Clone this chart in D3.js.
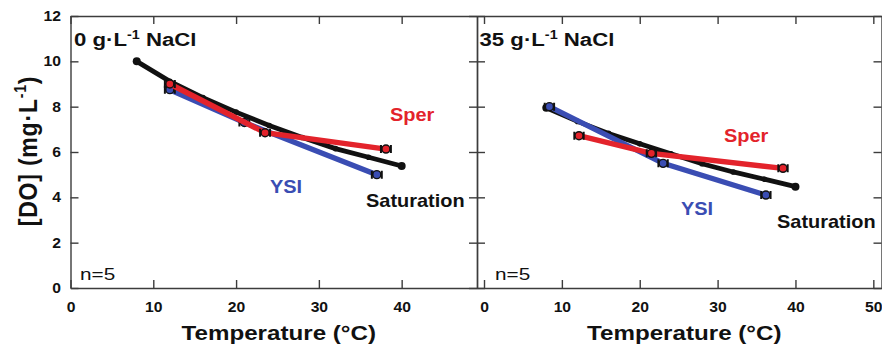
<!DOCTYPE html>
<html>
<head>
<meta charset="utf-8">
<script src="https://cdn.jsdelivr.net/npm/d3@7"></script>
<style>
body { margin: 0; background: #fff; }
svg { display: block; font-family: "Liberation Sans", Arial, Helvetica, sans-serif; }
</style>
</head>
<body>
<svg id="svg" width="882" height="350"></svg>
<script>
// saturation curve (same temps in both panels)
var satTemp = [8, 12, 16, 20, 24, 28, 32, 36, 40];
var satFresh = [10.0, 9.12, 8.4, 7.76, 7.17, 6.64, 6.15, 5.77, 5.38];
var satSalt = [7.95, 7.35, 6.82, 6.36, 5.92, 5.48, 5.12, 4.8, 4.47];

// sensors, 0 g/L NaCl
var sperFreshTemp = [12, 23.5, 38.1];
var sperFresh = [9.0, 6.85, 6.13];
var ysiFreshTemp = [12, 21, 37];
var ysiFresh = [8.75, 7.3, 5.0];

// sensors, 35 g/L NaCl
var sperSaltTemp = [12.2, 21.5, 38.4];
var sperSalt = [6.72, 5.94, 5.28];
var ysiSaltTemp = [8.4, 23, 36.2];
var ysiSalt = [8.0, 5.5, 4.1];

var yTicks = [0, 2, 4, 6, 8, 10, 12];
var xTicksLeft = [0, 10, 20, 30, 40];
var xTicksRight = [0, 10, 20, 30, 40, 50];
var panelTitles = ["0", "35"];

var tempErr = 0.6;
var red = "#e3232b";
var blue = "#3a4db3";
var ink = "#111";
var axisColor = "#3c3c3c";
var sx = 1.18;

var plotTop = 16, plotBottom = 288;

var y = d3.scaleLinear().domain([0, 12]).range([plotBottom, plotTop]);

var panels = [
	{
		x: d3.scaleLinear().domain([0, 49.1]).range([70.5, 477]),
		ticks: xTicksLeft,
		title: panelTitles[0],
		sat: satFresh,
		sper: sperFresh, sperTemp: sperFreshTemp,
		ysi: ysiFresh, ysiTemp: ysiFreshTemp,
		labels: { sper: [390, 120.5], ysi: [270, 193], sat: [366, 206.5] },
		yLabels: true
	},
	{
		x: d3.scaleLinear().domain([-0.9, 51.05]).range([477, 881.5]),
		ticks: xTicksRight,
		title: panelTitles[1],
		sat: satSalt,
		sper: sperSalt, sperTemp: sperSaltTemp,
		ysi: ysiSalt, ysiTemp: ysiSaltTemp,
		labels: { sper: [724, 141.5], ysi: [681, 215], sat: [777, 228] },
		yLabels: false
	}
];

var svg = d3.select("#svg");

function stretched(parent, x, yy, k) {
	return parent.append("text")
		.attr("transform", "translate(" + x + "," + yy + ") scale(" + k + ",1)");
}

function styleAxis(g) {
	g.attr("font-family", null).attr("font-size", null);
	g.selectAll("path, line").attr("stroke", axisColor).attr("stroke-width", 1.4);
	g.selectAll("text")
		.attr("font-size", 14)
		.attr("font-weight", "bold")
		.attr("fill", ink);
}

panels.forEach(function(p, i) {
	var x = p.x;
	var x0 = x.range()[0], x1 = x.range()[1];
	var g = svg.append("g");

	// frame with inward ticks on all four sides
	var gb = g.append("g").attr("transform", "translate(0," + plotBottom + ")")
		.call(d3.axisBottom(x).tickValues(p.ticks).tickSize(-8).tickSizeOuter(0).tickPadding(14).tickFormat(d3.format("d")));
	styleAxis(gb);
	gb.selectAll(".tick text").attr("transform", "scale(" + sx * 0.95 + ",1)");

	var gt = g.append("g").attr("transform", "translate(0," + plotTop + ")")
		.call(d3.axisTop(x).tickValues(p.ticks).tickSize(-8).tickSizeOuter(0).tickFormat(""));
	styleAxis(gt);

	var gl = g.append("g").attr("transform", "translate(" + x0 + ",0)")
		.call(d3.axisLeft(y).tickValues(yTicks).tickSize(-8).tickSizeOuter(0).tickPadding(8.5)
			.tickFormat(p.yLabels ? d3.format("d") : ""));
	styleAxis(gl);
	gl.selectAll(".tick text").attr("transform", "scale(" + sx * 0.95 + ",1)");

	var gr = g.append("g").attr("transform", "translate(" + x1 + ",0)")
		.call(d3.axisRight(y).tickValues(yTicks).tickSize(-8).tickSizeOuter(0).tickFormat(""));
	styleAxis(gr);

	// series
	var line = d3.line()
		.x(function(d) { return x(d[0]); })
		.y(function(d) { return y(d[1]); });

	var sat = d3.zip(satTemp, p.sat);
	var ysi = d3.zip(p.ysiTemp, p.ysi);
	var sper = d3.zip(p.sperTemp, p.sper);

	g.append("path").datum(sat)
		.attr("d", line).attr("fill", "none")
		.attr("stroke", ink).attr("stroke-width", 4.8).attr("stroke-linecap", "round");
	g.selectAll(".satDot").data(sat).enter().append("circle")
		.attr("class", "satDot")
		.attr("cx", function(d) { return x(d[0]); })
		.attr("cy", function(d) { return y(d[1]); })
		.attr("r", function(d, j) { return (j == 0 || j == sat.length - 1) ? 4 : 2.8; })
		.attr("fill", ink);

	[[ysi, blue], [sper, red]].forEach(function(s) {
		var pts = s[0], col = s[1];
		g.append("path").datum(pts)
			.attr("d", line).attr("fill", "none")
			.attr("stroke", col).attr("stroke-width", 5.4);
		var m = g.selectAll(null).data(pts).enter().append("g");
		// temperature error bars
		m.append("path")
			.attr("d", function(d) {
				var a = x(d[0] - tempErr), b = x(d[0] + tempErr), c = y(d[1]);
				return "M" + a + "," + (c - 4) + "V" + (c + 4) +
					"M" + b + "," + (c - 4) + "V" + (c + 4) +
					"M" + a + "," + c + "H" + b;
			})
			.attr("stroke", ink).attr("stroke-width", 2).attr("fill", "none");
		m.append("circle")
			.attr("cx", function(d) { return x(d[0]); })
			.attr("cy", function(d) { return y(d[1]); })
			.attr("r", 4)
			.attr("fill", col).attr("stroke", ink).attr("stroke-width", 1.4);
	});

	// series labels
	stretched(g, p.labels.sper[0], p.labels.sper[1], 1.14).text("Sper")
		.attr("font-size", 17.5).attr("font-weight", "bold").attr("fill", red);
	stretched(g, p.labels.ysi[0], p.labels.ysi[1], 1.14).text("YSI")
		.attr("font-size", 17.5).attr("font-weight", "bold").attr("fill", blue);
	stretched(g, p.labels.sat[0], p.labels.sat[1], 1.14).text("Saturation")
		.attr("font-size", 17.5).attr("font-weight", "bold").attr("fill", ink);

	// panel title
	var t = stretched(g, x0 + (i == 0 ? 3.5 : 2.5), 46, 1.2)
		.attr("font-size", 18.5).attr("font-weight", "bold").attr("fill", ink);
	t.append("tspan").text(p.title + " g\u00b7L");
	t.append("tspan").text("-1").attr("font-size", 12).attr("dy", -7.5);
	t.append("tspan").text(" NaCl").attr("dy", 7.5);

	// n
	stretched(g, (i == 0 ? 80 : 495), 280, 1.22).text("n=5")
		.attr("font-size", 17).attr("fill", ink);

	// x title
	stretched(g, (x0 + x1) / 2 + 5, 340, 1.24).text("Temperature (\u00b0C)")
		.attr("font-size", 19.5).attr("font-weight", "bold").attr("fill", ink)
		.attr("text-anchor", "middle");
});

// y title
var yl = svg.append("text")
	.attr("transform", "translate(36.5,151) scale(1.13,1) rotate(-90)")
	.attr("text-anchor", "middle")
	.attr("font-size", 23).attr("font-weight", "bold").attr("fill", ink)
	.attr("letter-spacing", 0.8);
yl.append("tspan").text("[DO] (mg\u00b7L");
yl.append("tspan").text("-1").attr("font-size", 14).attr("dy", -9);
yl.append("tspan").text(")").attr("dy", 9);
</script>
</body>
</html>
